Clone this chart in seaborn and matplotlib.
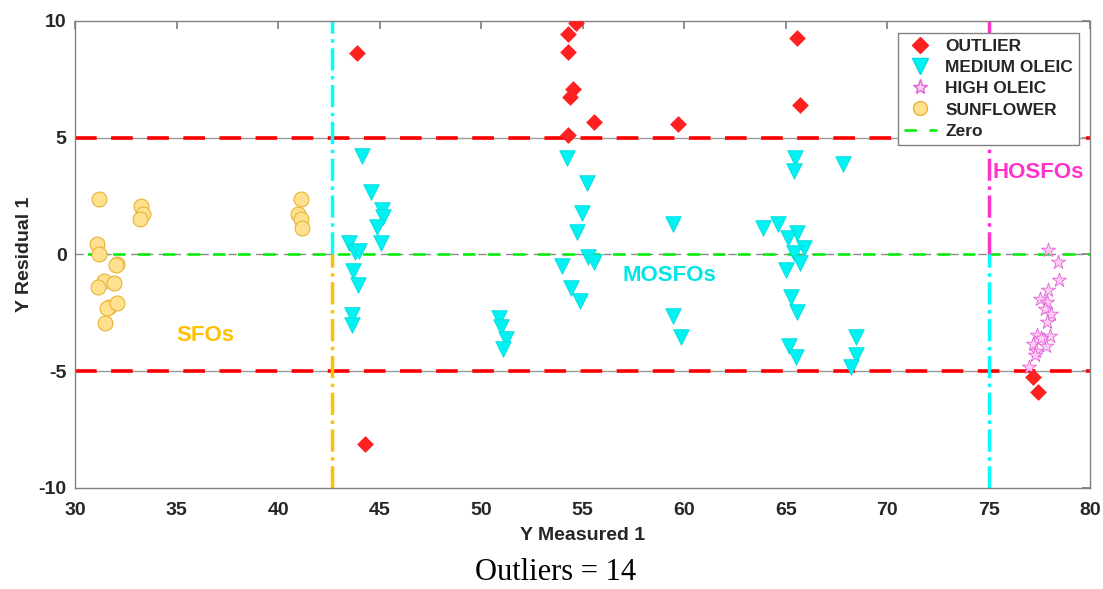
import numpy as np
import pandas as pd
import matplotlib
matplotlib.use("Agg")
import matplotlib.pyplot as plt
from matplotlib.lines import Line2D
import seaborn as sns

# ---- data ----
outlier_x = [43.9, 44.3, 54.66, 54.3, 54.3, 54.51, 54.38, 55.58, 54.3, 59.69, 65.57, 65.71, 77.17, 77.42]
outlier_y = [8.63, -8.11, 9.9, 9.44, 8.69, 7.07, 6.73, 5.65, 5.12, 5.59, 9.27, 6.4, -5.26, -5.9]

medium_x = [44.12, 44.58, 45.12, 45.16, 44.89, 45.09, 43.48, 43.79, 43.97, 43.71, 43.96, 43.65, 43.65,
            50.89, 50.99, 51.23, 51.08,
            54.22, 55.22, 54.96, 54.74, 55.26, 55.58, 53.97, 54.41, 54.89,
            65.47, 65.39, 67.8, 59.44, 63.86, 64.64, 65.58, 65.09, 65.91, 65.39, 65.71, 65.02,
            65.25, 65.58, 59.44, 59.85, 65.17, 65.52, 68.45, 68.45, 68.21]
medium_y = [4.22, 2.66, 1.91, 1.59, 1.19, 0.48, 0.48, 0.12, 0.16, -0.72, -1.31, -2.59, -3.02,
            -2.73, -3.09, -3.63, -4.05,
            4.12, 3.08, 1.76, 0.98, -0.09, -0.31, -0.49, -1.42, -1.98,
            4.12, 3.58, 3.88, 1.31, 1.12, 1.31, 0.91, 0.69, 0.26, 0.05, -0.38, -0.66,
            -1.83, -2.45, -2.63, -3.52, -3.92, -4.4, -3.52, -4.3, -4.8]

high_x = [77.91, 78.39, 78.44, 77.91, 77.5, 77.86, 77.78, 78.08, 77.86, 77.37, 78.03, 77.2,
          77.83, 77.32, 77.29, 77.0, 77.57]
high_y = [0.19, -0.31, -1.09, -1.52, -1.92, -2.02, -2.35, -2.55, -2.88, -3.45, -3.49, -3.83,
          -3.92, -4.12, -4.3, -4.8, -3.59]

sun_x = [31.18, 33.25, 33.33, 33.18, 41.12, 41.0, 41.15, 41.2, 31.1, 31.2, 32.05, 32.0,
         31.41, 31.15, 31.94, 31.66, 31.6, 32.08, 31.49]
sun_y = [2.38, 2.09, 1.72, 1.52, 2.38, 1.72, 1.52, 1.15, 0.44, 0.02, -0.42, -0.47,
         -1.12, -1.41, -1.23, -2.23, -2.3, -2.09, -2.92]

limit_levels = [5, -5]
split_sfo = 42.66
split_hosfo = 75.0
n_outliers = len(outlier_x)

sns.set_theme(style="white")
plt.rcParams['font.family'] = ['Liberation Sans', 'DejaVu Sans']
plt.rcParams['axes.unicode_minus'] = False

fig = plt.figure(figsize=(11.03, 5.89), dpi=100)
ax = fig.add_axes([0.068, 0.1715, 0.9205, 0.793])

# reference lines
for lv in limit_levels:
    ax.axhline(lv, color="#9a9a9a", lw=1, zorder=1)
    ax.axhline(lv, color="#ff0000", lw=2.6, ls=(0, (6, 4)), zorder=2)
ax.axhline(0, color="#8a8a8a", lw=1, ls=(0, (6, 4)), zorder=1)
ax.axhline(0, color="#00ee00", lw=1.8, ls=(5, (5, 5)), zorder=2)

# group boundaries (dash-dot, two-coloured)
ax.plot([split_sfo, split_sfo], [0, 10], color="#00ffff", lw=2.5, ls="-.", zorder=2)
ax.plot([split_sfo, split_sfo], [-10, 0], color="#ffc000", lw=2.5, ls="-.", zorder=2)
ax.plot([split_hosfo, split_hosfo], [0, 10], color="#ff33cc", lw=2.5, ls="-.", zorder=2)
ax.plot([split_hosfo, split_hosfo], [-10, 0], color="#00ffff", lw=2.5, ls="-.", zorder=2)

sns.scatterplot(x=sun_x, y=sun_y, ax=ax, marker="o", s=115, color="#ffe08e",
                edgecolor="#e8b436", linewidth=0.8, zorder=3)
sns.scatterplot(x=medium_x, y=medium_y, ax=ax, marker="v", s=125, color="#00f2f2",
                edgecolor="#00dada", linewidth=0.6, zorder=3)
sns.scatterplot(x=high_x, y=high_y, ax=ax, marker="*", s=115, color="#ffcdf2",
                edgecolor="#e060d8", linewidth=0.6, zorder=3)
sns.scatterplot(x=outlier_x, y=outlier_y, ax=ax, marker="D", s=64, color="#ff2020",
                edgecolor="#ff2020", linewidth=0.5, zorder=4)

ax.text(36.4, -3.45, "SFOs", color="#ffc000", fontsize=16, fontweight="bold",
        ha="center", va="center")
ax.text(59.26, -0.92, "MOSFOs", color="#00e6e6", fontsize=16, fontweight="bold",
        ha="center", va="center")
ax.text(75.2, 3.53, "HOSFOs", color="#ff33cc", fontsize=16, fontweight="bold",
        ha="left", va="center")

ax.set_xlim(30, 80)
ax.set_ylim(-10, 10)
ax.set_xticks(np.arange(30, 81, 5))
ax.set_yticks(np.arange(-10, 11, 5))
ax.tick_params(direction="in", length=6, color="#808080", top=True, right=True,
               labelsize=14)
ax.tick_params(axis="x", pad=10)
ax.tick_params(axis="y", pad=6)
for lbl in ax.get_xticklabels() + ax.get_yticklabels():
    lbl.set_fontweight("bold")
    lbl.set_color("#262626")
for sp in ax.spines.values():
    sp.set_color("#808080")
    sp.set_linewidth(1)

ax.set_xlabel("Y Measured 1", fontsize=14, fontweight="bold", color="#262626", labelpad=6)
ax.set_ylabel("Y Residual 1", fontsize=14, fontweight="bold", color="#262626", labelpad=4)

handles = [
    Line2D([], [], marker="D", ls="none", markersize=8, color="#ff2020"),
    Line2D([], [], marker="v", ls="none", markersize=11, markerfacecolor="#00f2f2",
           markeredgecolor="#00dada"),
    Line2D([], [], marker="*", ls="none", markersize=11, markerfacecolor="#ffcdf2",
           markeredgecolor="#e060d8"),
    Line2D([], [], marker="o", ls="none", markersize=10, markerfacecolor="#ffe08e",
           markeredgecolor="#e8b436"),
    Line2D([], [], color="#00ee00", lw=1.8, ls=(0, (5, 5))),
]
labels = ["OUTLIER", "MEDIUM OLEIC", "HIGH OLEIC", "SUNFLOWER", "Zero"]
leg = ax.legend(handles, labels, loc="upper right", bbox_to_anchor=(0.989, 0.975),
                prop={"weight": "bold", "size": 12.5}, frameon=True, fancybox=False,
                edgecolor="#808080", framealpha=1, handlelength=1.9, handletextpad=0.5,
                labelspacing=0.35, borderpad=0.35, borderaxespad=0)
leg.get_frame().set_linewidth(1)
leg.set_zorder(10)

fig.text(0.504, 0.003, f"Outliers = {n_outliers}", fontsize=22, family=["Liberation Serif", "DejaVu Serif"],
         ha="center", va="bottom", color="black")

fig.savefig("out.png", dpi=100)
